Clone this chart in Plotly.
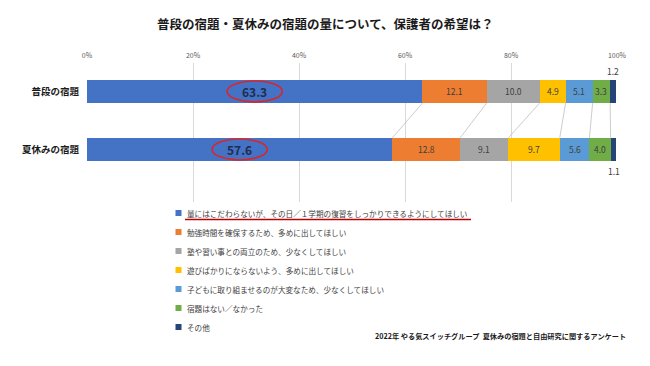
import plotly.graph_objects as go

categories = ["普段の宿題", "夏休みの宿題"]
series_names = [
    "量にはこだわらないが、その日／１学期の復習をしっかりできるようにしてほしい",
    "勉強時間を確保するため、多めに出してほしい",
    "塾や習い事との両立のため、少なくしてほしい",
    "遊びばかりにならないよう、多めに出してほしい",
    "子どもに取り組ませるのが大変なため、少なくしてほしい",
    "宿題はない／なかった",
    "その他",
]
values_futsu = [63.3, 12.1, 10.0, 4.9, 5.1, 3.3, 1.2]
values_natsu = [57.6, 12.8, 9.1, 9.7, 5.6, 4.0, 1.1]
colors = ["#4472C4", "#ED7D31", "#A5A5A5", "#FFC000", "#5B9BD5", "#70AD47", "#264478"]
tick_vals = [0, 20, 40, 60, 80, 100]
tick_text = ["0%", "20%", "40%", "60%", "80%", "100%"]

title = "普段の宿題・夏休みの宿題の量について、保護者の希望は？"
source = "2022年 やる気スイッチグループ  夏休みの宿題と自由研究に関するアンケート"

FONT = "Noto Sans CJK JP"
BAR_W = 0.40
ypos = [0, 1]
rows = [values_futsu, values_natsu]

fig = go.Figure()
for i, name in enumerate(series_names):
    fig.add_trace(go.Bar(
        orientation="h",
        y=ypos,
        x=[values_futsu[i], values_natsu[i]],
        name=name,
        width=BAR_W,
        marker=dict(color=colors[i], line=dict(width=0)),
        textposition="none",
        showlegend=False,
        hoverinfo="x+name",
    ))

annotations = []
shapes = []

# data labels
for r, vals in enumerate(rows):
    cum = 0
    for i, v in enumerate(vals):
        mid = cum + v / 2
        if i == 0:
            annotations.append(dict(x=mid, y=ypos[r], xref="x", yref="y", text=f"<b>{v:.1f}</b>",
                                    showarrow=False, font=dict(family=FONT, size=12, color="#1F2D50")))
            shapes.append(dict(type="circle", xref="x", yref="y",
                               x0=mid - 5.2, x1=mid + 5.2, y0=ypos[r] - 0.18, y1=ypos[r] + 0.18,
                               line=dict(color="#D9262B", width=1.6), layer="above"))
        elif i == len(vals) - 1:
            annotations.append(dict(x=mid, y=ypos[r], xref="x", yref="y", text=f"{v:.1f}",
                                    showarrow=False, font=dict(family=FONT, size=8.5, color="#404040"),
                                    yshift=(20 if r == 0 else -22)))
        else:
            annotations.append(dict(x=mid, y=ypos[r], xref="x", yref="y", text=f"{v:.1f}",
                                    showarrow=False, font=dict(family=FONT, size=8.5, color="#404040")))
        cum += v

# series lines between bars
cum_a, cum_b = 0, 0
for i in range(len(series_names) - 1):
    cum_a += values_futsu[i]
    cum_b += values_natsu[i]
    shapes.append(dict(type="line", xref="x", yref="y", x0=cum_a, y0=ypos[0] + BAR_W / 2,
                       x1=cum_b, y1=ypos[1] - BAR_W / 2, line=dict(color="#BFBFBF", width=0.8)))

# paper coordinates: plot area y 63..235 px -> paper 1..0 ; x 87..617 -> 0..1
def py(px):
    return (235 - px) / 172.0
def pxx(px):
    return (px - 87) / 530.0

# white box behind the legend (hides gridlines)
shapes.append(dict(type="rect", xref="paper", yref="paper",
                   x0=pxx(170), x1=pxx(560), y0=py(345), y1=py(202),
                   fillcolor="white", line=dict(width=0), layer="above"))
leg_y0 = 213
leg_dy = 19
for i, name in enumerate(series_names):
    yy = leg_y0 + i * leg_dy
    shapes.append(dict(type="rect", xref="paper", yref="paper",
                       x0=pxx(175.5), x1=pxx(181.5), y0=py(yy + 3), y1=py(yy - 3),
                       fillcolor=colors[i], line=dict(width=0), layer="above"))
    annotations.append(dict(x=pxx(185), y=py(yy), xref="paper", yref="paper", text=name,
                            showarrow=False, xanchor="left", yanchor="middle",
                            font=dict(family=FONT, size=7.6, color="#404040")))
shapes.append(dict(type="line", xref="paper", yref="paper", x0=pxx(185), x1=pxx(471),
                   y0=py(219.5), y1=py(219.5), line=dict(color="#C00000", width=1.5), layer="above"))

annotations.append(dict(x=pxx(325), y=py(23), xref="paper", yref="paper", yanchor="middle",
                        xanchor="center", text=f"<b>{title}</b>", showarrow=False,
                        font=dict(family=FONT, size=12.5, color="#1a1a1a")))
annotations.append(dict(x=pxx(628), y=py(336), xref="paper", yref="paper", xanchor="right",
                        yanchor="middle", text=f"<b>{source}</b>", showarrow=False,
                        font=dict(family=FONT, size=7.2, color="#1a1a1a")))

fig.update_layout(
    width=650, height=366,
    margin=dict(l=87, r=33, t=63, b=131, pad=0),
    paper_bgcolor="white", plot_bgcolor="white",
    barmode="stack",
    showlegend=False,
    xaxis=dict(range=[0, 100], side="top", tickvals=tick_vals, ticktext=tick_text,
               showgrid=True, gridcolor="#D9D9D9", gridwidth=1, zeroline=False,
               showline=False, ticks="", tickfont=dict(family=FONT, size=7, color="#595959"),
               ticklabelstandoff=3, fixedrange=True, automargin=False),
    yaxis=dict(range=[2.474, -0.491], tickvals=ypos,
               ticktext=[f"<b>{c}</b>" for c in categories],
               showgrid=False, zeroline=False, showline=False, ticks="",
               tickfont=dict(family=FONT, size=9.5, color="#1a1a1a"), fixedrange=True,
               ticklabelstandoff=7, automargin=False),
    annotations=annotations,
    shapes=shapes,
)

fig.write_html("out.html", config={"displayModeBar": False},
               post_script="document.body.style.margin='0';document.body.style.padding='0';")
